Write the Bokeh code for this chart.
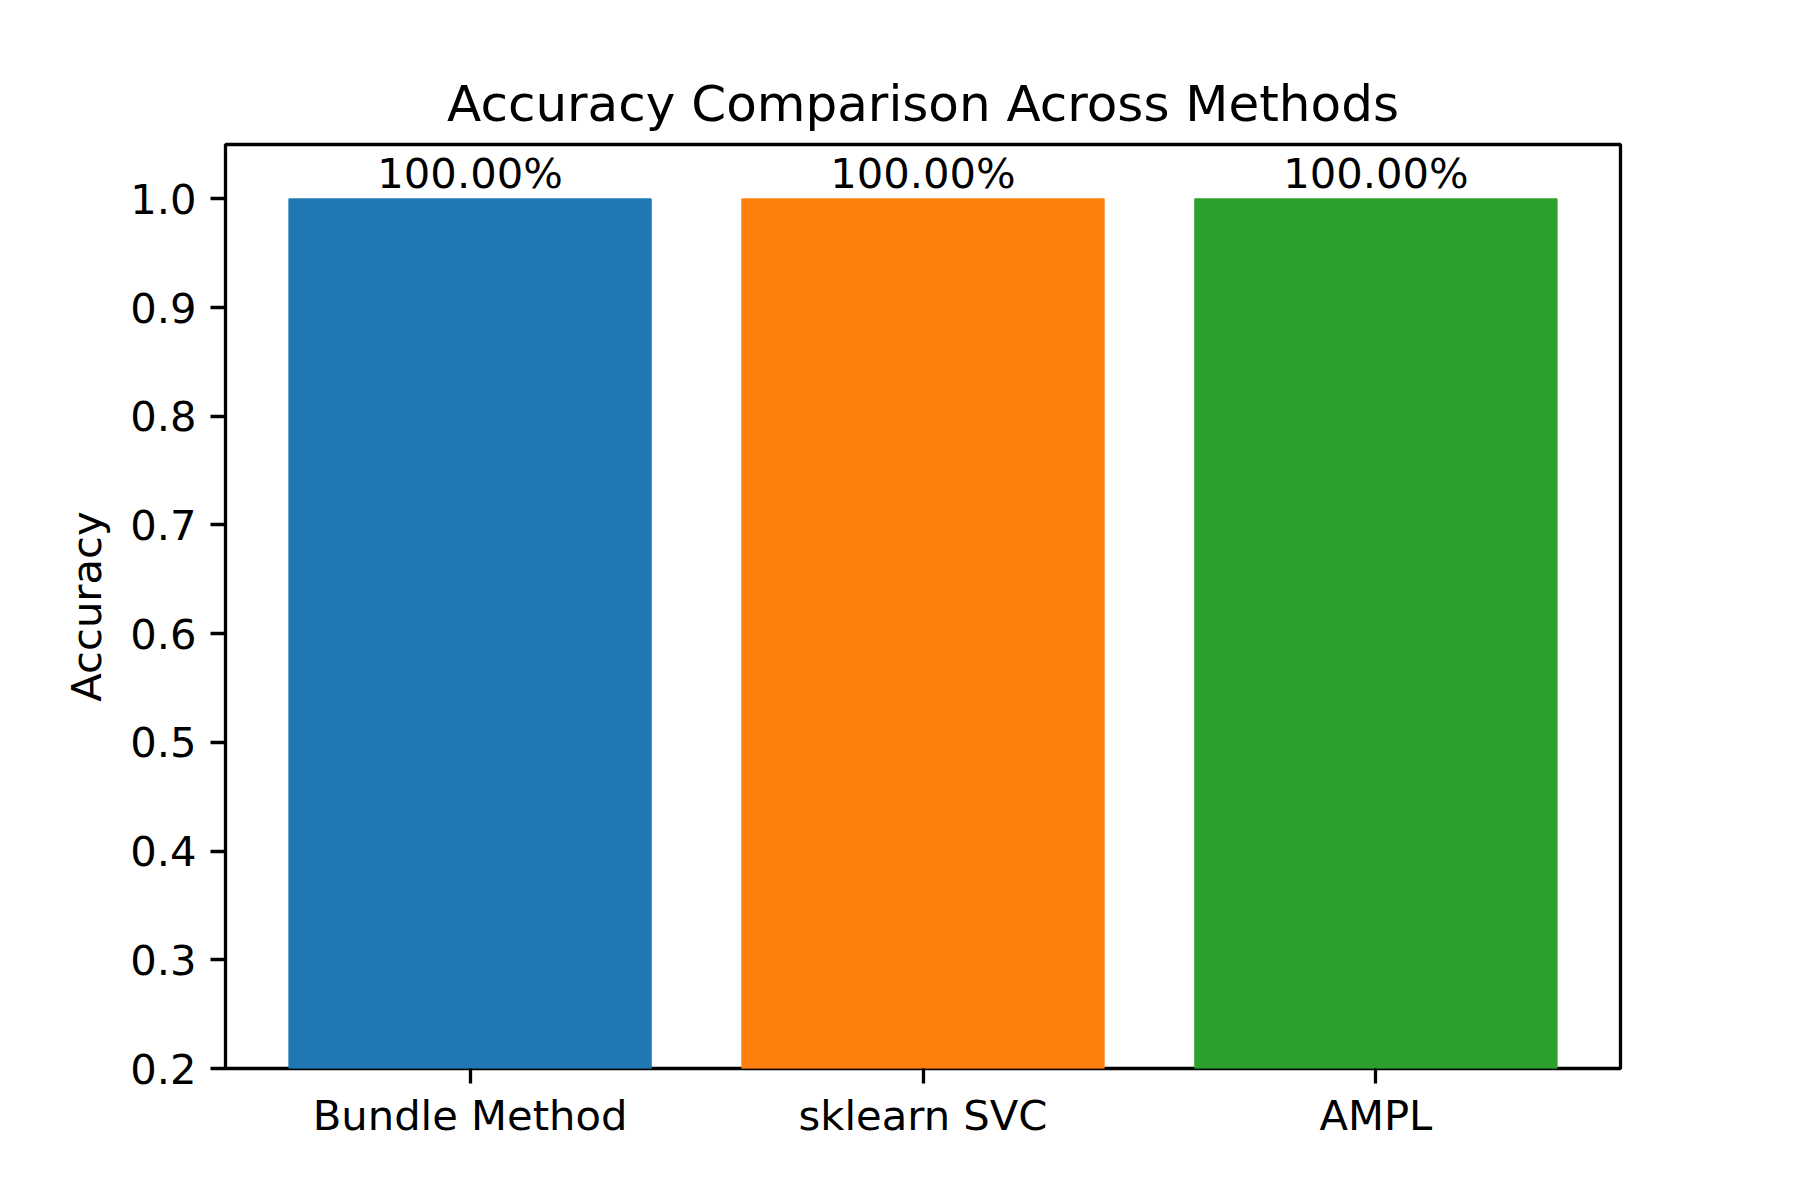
from bokeh.plotting import figure
from bokeh.models import Range1d, FixedTicker, ColumnDataSource, LabelSet
from bokeh.core.properties import value
from bokeh.embed import file_html
from bokeh.resources import INLINE

methods = ["Bundle Method", "sklearn SVC", "AMPL"]
accuracy = [1.0, 1.0, 1.0]
colors = ["#1f77b4", "#ff7f0e", "#2ca02c"]
y_ticks = [0.2, 0.3, 0.4, 0.5, 0.6, 0.7, 0.8, 0.9, 1.0]

FONT = "DejaVu Sans"
FS = "41.7px"

xpos = list(range(len(methods)))
src = ColumnDataSource(dict(
    x=xpos, top=accuracy, color=colors,
    label=[f"{a*100:.2f}%" for a in accuracy],
))

p = figure(width=1800, height=1200, output_backend="svg", toolbar_location=None,
           x_range=Range1d(-0.54, 2.54), y_range=Range1d(0.2, 1.05),
           min_border_left=225, min_border_right=180,
           min_border_top=144, min_border_bottom=132,
           title="Accuracy Comparison Across Methods")

p.vbar(x="x", top="top", bottom=0, width=0.8, color="color", source=src)

labels = LabelSet(x="x", y="top", text="label", source=src,
                  text_align="center", text_baseline="alphabetic", y_offset=11,
                  text_font=value(FONT), text_font_size=value(FS), text_color="black")
p.add_layout(labels)

p.title.text_font = FONT
p.title.text_font_size = "50px"
p.title.text_font_style = "normal"
p.title.align = "center"
p.title.text_color = "black"
p.title.standoff = 24

p.xgrid.visible = False
p.ygrid.visible = False
p.outline_line_color = "black"
p.outline_line_width = 3.3
p.outline_line_alpha = 1.0
p.background_fill_color = "white"
p.border_fill_color = "white"

for ax in (p.xaxis[0], p.yaxis[0]):
    ax.axis_line_color = None
    ax.major_tick_line_width = 3.3
    ax.major_tick_line_color = "black"
    ax.major_tick_out = 15
    ax.major_tick_in = 0
    ax.minor_tick_line_color = None
    ax.major_label_text_font = FONT
    ax.major_label_text_font_size = FS
    ax.major_label_text_color = "black"
    ax.major_label_standoff = 14

p.xaxis.major_label_standoff = 7

p.xaxis.ticker = FixedTicker(ticks=xpos)
p.xaxis.major_label_overrides = {i: m for i, m in zip(xpos, methods)}

p.yaxis.ticker = FixedTicker(ticks=y_ticks)
p.yaxis.major_label_overrides = {t: f"{t:.1f}" for t in y_ticks}
p.yaxis.axis_label = "Accuracy"
p.yaxis.axis_label_text_font = FONT
p.yaxis.axis_label_text_font_size = FS
p.yaxis.axis_label_text_font_style = "normal"
p.yaxis.axis_label_text_color = "black"
p.yaxis.axis_label_standoff = 16

open("out.html", "w").write(file_html(p, INLINE))
